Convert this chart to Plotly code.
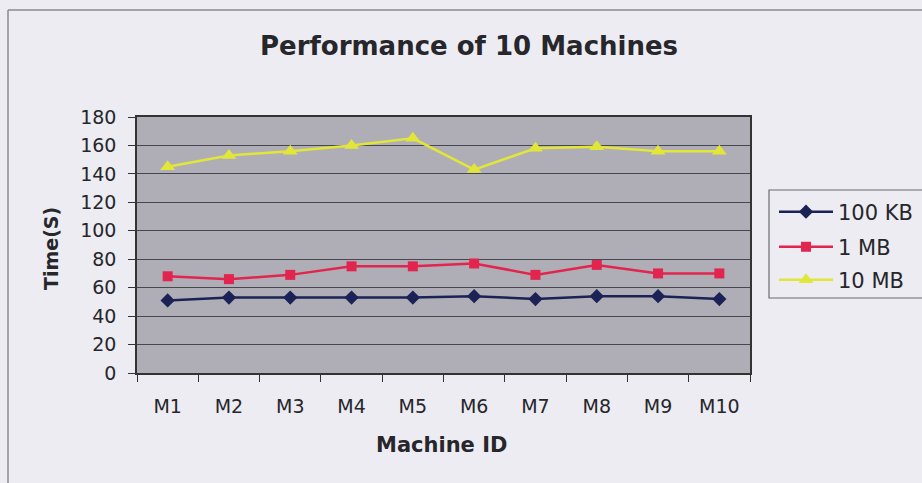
import plotly.graph_objects as go

# Machine identifiers and measured transfer times (seconds)
machines = ["M1", "M2", "M3", "M4", "M5", "M6", "M7", "M8", "M9", "M10"]
time_100kb = [51, 53, 53, 53, 53, 54, 52, 54, 54, 52]
time_1mb = [68, 66, 69, 75, 75, 77, 69, 76, 70, 70]
time_10mb = [145, 153, 156, 160, 165, 143, 158, 159, 156, 156]
series_names = ["100 KB", "1 MB", "10 MB"]
y_ticks = [0, 20, 40, 60, 80, 100, 120, 140, 160, 180]

W, H = 922, 483
L, R, T, B = 137, 750, 117, 373          # plot-area edges in pixels
PW, PH = R - L, B - T


def px(x):
    return (x - L) / PW


def py(y):
    return (B - y) / PH


FONT = "DejaVu Sans"
TEXT = "#26262b"
PAPER = "#ececf2"
PLOT = "#afaeb6"
GRID = "#47474f"

styles = [
    dict(color="#1b2356", symbol="diamond", size=11),
    dict(color="#e2254e", symbol="square", size=10),
    dict(color="#e2e638", symbol="triangle-up", size=13),
]
legend_rows = [212, 247, 280]
legend_ids = ["legend", "legend2", "legend3"]

fig = go.Figure()
for vals, name, st, lid in zip([time_100kb, time_1mb, time_10mb], series_names, styles, legend_ids):
    fig.add_trace(go.Scatter(
        x=machines, y=vals, name=name, mode="lines+markers",
        line=dict(color=st["color"], width=2.5),
        marker=dict(color=st["color"], symbol=st["symbol"], size=st["size"], line=dict(width=0)),
        legend=lid,
    ))

legend_common = dict(
    xanchor="left", yanchor="middle", x=px(774),
    bgcolor="rgba(0,0,0,0)", borderwidth=0,
    font=dict(family=FONT, size=21, color=TEXT),
    itemwidth=54,
)
layout_legends = {lid: dict(legend_common, y=py(yy)) for lid, yy in zip(legend_ids, legend_rows)}

fig.update_layout(
    width=W, height=H,
    margin=dict(l=L, r=W - R, t=T, b=H - B, autoexpand=False),
    paper_bgcolor=PAPER, plot_bgcolor=PLOT,
    showlegend=True,
    font=dict(family=FONT, color=TEXT),
    **layout_legends,
)

fig.update_xaxes(
    type="category", range=[-0.5, 9.5], tickson="boundaries",
    ticks="outside", ticklen=7, tickcolor="#333", tickwidth=1,
    showgrid=False, showline=True, linecolor="#333", linewidth=1.5, mirror=True,
    tickfont=dict(family=FONT, size=19, color=TEXT), ticklabelstandoff=15,
)
fig.update_yaxes(
    range=[0, 180], tickvals=y_ticks,
    ticks="outside", ticklen=7, tickcolor="#333", tickwidth=1,
    showgrid=True, gridcolor=GRID, gridwidth=1, zeroline=False,
    showline=True, linecolor="#333", linewidth=1.5, mirror=True,
    tickfont=dict(family=FONT, size=19, color=TEXT), ticklabelstandoff=8,
)

# Titles
fig.add_annotation(text="<b>Performance of 10 Machines</b>", xref="paper", yref="paper",
                   x=px(469), y=py(46), xanchor="center", yanchor="middle", showarrow=False,
                   font=dict(family=FONT, size=26, color=TEXT))
fig.add_annotation(text="<b>Machine ID</b>", xref="paper", yref="paper",
                   x=px(441), y=py(445), xanchor="center", yanchor="middle", showarrow=False,
                   font=dict(family=FONT, size=21, color=TEXT))
fig.add_annotation(text="<b>Time(S)</b>", xref="paper", yref="paper", textangle=-90,
                   x=px(51), y=py(249), xanchor="center", yanchor="middle", showarrow=False,
                   font=dict(family=FONT, size=19, color=TEXT))

# Legend frame and chart-area border
fig.add_shape(type="rect", xref="paper", yref="paper",
              x0=px(769), x1=px(926), y0=py(298), y1=py(190),
              line=dict(color="#6a6a70", width=1.2), fillcolor="rgba(0,0,0,0)", layer="below")
fig.add_shape(type="line", xref="paper", yref="paper",
              x0=px(8), x1=px(8), y0=py(10), y1=py(490),
              line=dict(color="#8a8a92", width=1.5))
fig.add_shape(type="line", xref="paper", yref="paper",
              x0=px(8), x1=px(930), y0=py(10), y1=py(10),
              line=dict(color="#8a8a92", width=1.5))

fig.write_html("out.html")
